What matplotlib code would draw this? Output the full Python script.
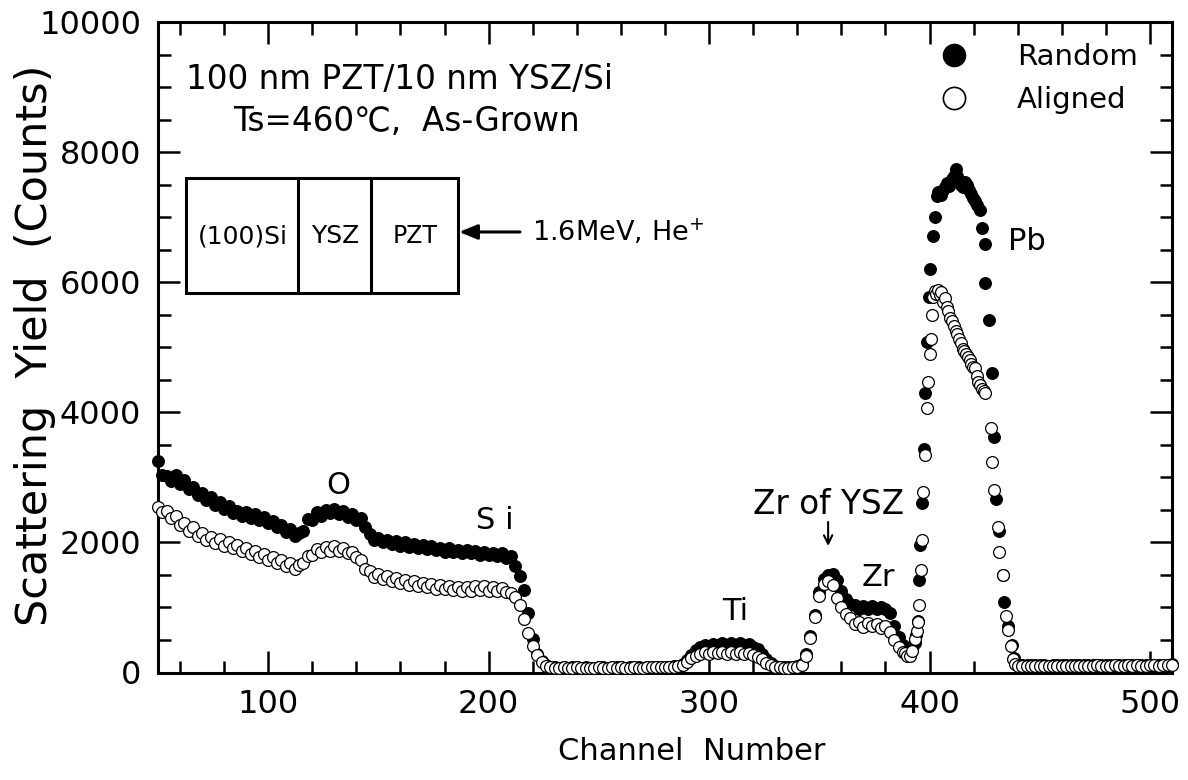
import matplotlib
matplotlib.use("Agg")
import matplotlib.pyplot as plt
import numpy as np
from matplotlib.lines import Line2D
from matplotlib.patches import Rectangle
from matplotlib.ticker import MultipleLocator

plt.rcParams['font.family'] = ['DejaVu Sans', 'Noto Sans CJK JP']

# channels 50..388, every second channel
ch_low = np.arange(50, 389, 2)
random_low = [
    3250, 3040, 3020, 2950, 3030, 2900, 2960, 2820, 2850, 2730,
    2760, 2650, 2700, 2580, 2620, 2510, 2560, 2450, 2490, 2410,
    2460, 2380, 2430, 2340, 2390, 2300, 2330, 2230, 2270, 2160,
    2200, 2100, 2140, 2180, 2360, 2350, 2460, 2400, 2500, 2450,
    2520, 2430, 2480, 2390, 2430, 2350, 2380, 2230, 2130, 2040,
    2070, 2000, 2040, 1970, 2020, 1950, 2000, 1930, 1970, 1920,
    1960, 1900, 1940, 1880, 1920, 1860, 1910, 1850, 1890, 1840,
    1880, 1830, 1870, 1810, 1860, 1800, 1840, 1790, 1830, 1760,
    1790, 1640, 1480, 1270, 910, 520, 290, 170, 110, 90,
    80, 75, 85, 70, 78, 82, 74, 80, 76, 72,
    84, 79, 75, 81, 77, 83, 74, 78, 86, 80,
    76, 82, 88, 85, 90, 84, 92, 95, 100, 130,
    190, 270, 340, 385, 420, 410, 445, 420, 455, 425,
    450, 420, 455, 420, 440, 395, 360, 290, 210, 140,
    105, 90, 85, 80, 85, 95, 130, 280, 560, 880,
    1230, 1440, 1500, 1510, 1420, 1250, 1130, 1060, 1030, 970,
    1020, 975, 1025, 970, 1010, 975, 910, 720, 540, 420,
]
aligned_low = [
    2550, 2470, 2480, 2370, 2400, 2260, 2300, 2180, 2230, 2100,
    2150, 2040, 2090, 1990, 2050, 1950, 2010, 1910, 1960, 1870,
    1920, 1820, 1870, 1770, 1820, 1730, 1780, 1680, 1730, 1630,
    1680, 1590, 1660, 1680, 1790, 1800, 1900, 1850, 1930, 1870,
    1940, 1870, 1920, 1840, 1860, 1770, 1730, 1590, 1560, 1470,
    1510, 1430, 1480, 1400, 1450, 1380, 1420, 1350, 1400, 1330,
    1380, 1310, 1360, 1290, 1340, 1280, 1330, 1270, 1320, 1260,
    1320, 1260, 1330, 1270, 1330, 1260, 1320, 1250, 1300, 1240,
    1220, 1160, 1040, 830, 600, 410, 270, 160, 100, 85,
    75, 70, 80, 68, 74, 78, 70, 76, 72, 68,
    80, 74, 70, 77, 73, 79, 70, 74, 80, 76,
    72, 78, 82, 80, 84, 80, 86, 90, 95, 115,
    160, 220, 260, 285, 310, 290, 320, 295, 315, 285,
    320, 290, 315, 285, 300, 270, 240, 200, 150, 110,
    90, 80, 75, 75, 80, 90, 120, 260, 530, 850,
    1180, 1360, 1410, 1340, 1150, 1010, 900, 840, 750, 770,
    700, 760, 710, 750, 690, 720, 620, 500, 390, 320,
]

random_pb_ch = [
    389.0, 390.0, 391.0, 392.0, 393.5, 394.0, 394.6, 395.1, 395.7, 396.4,
    397.3, 398.1, 398.8, 399.7, 400.3, 401.8, 402.5, 403.2, 404.0, 405.0,
    406.0, 407.0, 408.0, 409.0, 410.0, 411.0, 411.8, 412.6, 413.5, 414.4,
    415.3, 416.2, 417.1, 418.0, 418.9, 419.8, 420.6, 421.7, 422.9, 423.7,
    425.0, 425.3, 426.8, 428.5, 429.3, 430.0, 431.7, 433.2, 434.0, 435.6,
    437.2, 438.2, 439.0,
]
random_pb = [
    380, 310, 300, 360, 460, 570, 790, 1420, 1960, 2600,
    3430, 4300, 5080, 5780, 6210, 6710, 7000, 7330, 7380, 7340,
    7420, 7460, 7520, 7480, 7580, 7640, 7740, 7640, 7560, 7500,
    7470, 7540, 7490, 7420, 7360, 7300, 7250, 7190, 7110, 6840,
    6590, 5990, 5420, 4600, 3620, 2670, 2180, 1500, 1090, 710,
    430, 220, 140,
]
aligned_pb_ch = [
    389.0, 390.0, 391.0, 392.0, 393.4, 394.1, 394.7, 395.2, 396.0, 396.7,
    397.2, 398.0, 398.7, 399.4, 400.1, 400.7, 401.2, 401.8, 402.5, 403.0,
    403.8, 404.6, 405.4, 406.2, 407.0, 407.8, 408.6, 409.4, 410.2, 411.0,
    411.8, 412.6, 413.4, 414.2, 415.0, 415.8, 416.6, 417.4, 418.2, 419.0,
    419.8, 420.6, 421.4, 422.1, 422.9, 423.7, 424.5, 425.3, 427.7, 428.5,
    429.3, 430.9, 431.7, 433.3, 434.5, 435.6, 436.8, 438.0, 439.0,
]
aligned_pb = [
    300, 260, 250, 330, 520, 640, 780, 1030, 1580, 2030,
    2770, 3350, 4070, 4470, 4900, 5120, 5500, 5780, 5870, 5820,
    5880, 5800, 5850, 5700, 5750, 5620, 5550, 5450, 5400, 5330,
    5250, 5200, 5120, 5060, 4980, 4950, 4900, 4850, 4800, 4740,
    4700, 4680, 4560, 4470, 4420, 4360, 4330, 4300, 3760, 3240,
    2800, 2230, 1850, 1500, 870, 650, 400, 200, 130,
]

# channels 440..510, every second channel
ch_high = np.arange(440, 511, 2)
random_high = [
    120, 115, 110, 112, 108, 115, 110, 106, 112, 118, 110, 108,
    114, 110, 116, 112, 108, 114, 118, 112, 110, 116, 120, 114,
    112, 118, 115, 120, 116, 112, 118, 122, 116, 120, 118, 124,
]
aligned_high = [
    105, 100, 98, 102, 96, 104, 100, 95, 102, 106, 98, 96,
    104, 100, 106, 102, 98, 104, 108, 102, 100, 106, 110, 104,
    102, 108, 105, 110, 106, 102, 108, 112, 106, 110, 108, 114,
]

random_x = np.concatenate([ch_low, random_pb_ch, ch_high])
random_y = np.concatenate([random_low, random_pb, random_high])
aligned_x = np.concatenate([ch_low, aligned_pb_ch, ch_high])
aligned_y = np.concatenate([aligned_low, aligned_pb, aligned_high])

fig = plt.figure(figsize=(11.88, 7.8), dpi=100)
ax = fig.add_axes([158 / 1188, 1 - 672.5 / 780, 1014 / 1188, 650.5 / 780])

ax.plot(random_x, random_y, ls='', marker='o', ms=8.5, mfc='black', mec='black',
        mew=0.8, clip_on=False, zorder=3)
ax.plot(aligned_x, aligned_y, ls='', marker='o', ms=8.5, mfc='white', mec='black',
        mew=0.9, clip_on=False, zorder=4)

ax.set_xlim(50, 510)
ax.set_ylim(0, 10000)
ax.xaxis.set_major_locator(MultipleLocator(100))
ax.xaxis.set_minor_locator(MultipleLocator(20))
ax.yaxis.set_major_locator(MultipleLocator(2000))
ax.yaxis.set_minor_locator(MultipleLocator(500))
ax.tick_params(which='both', direction='in', top=True, right=True, width=1.8,
               labelsize=23)
ax.tick_params(which='major', length=16, pad=12)
ax.tick_params(which='minor', length=9)
for s in ax.spines.values():
    s.set_linewidth(2.2)

ax.set_xlabel('Channel  Number', fontsize=22)
ax.xaxis.set_label_coords(0.526, -0.099)
ax.set_ylabel('Scattering  Yield  (Counts)', fontsize=31)
ax.yaxis.set_label_coords(-0.101, 0.503)

# sample description
ax.text(62.7, 9109, '100 nm PZT/10 nm YSZ/Si', fontsize=23.5, va='center')
ax.text(84, 8463, 'Ts=460\u2103,  As-Grown', fontsize=23.5, va='center')

# layer sketch
ax.add_patch(Rectangle((62.7, 5834), 186.1 - 62.7, 7602 - 5834, fill=False,
                       lw=2.2, ec='black', zorder=5))
for xd in (113.5, 146.6):
    ax.plot([xd, xd], [5834, 7602], color='black', lw=2.2, zorder=5)
ax.text(88.6, 6710, '(100)Si', fontsize=18, ha='center', va='center')
ax.text(130.3, 6710, 'YSZ', fontsize=18, ha='center', va='center')
ax.text(166.6, 6710, 'PZT', fontsize=17, ha='center', va='center')
ax.annotate('', xy=(186.6, 6772), xytext=(214.2, 6772),
            arrowprops=dict(arrowstyle='-|>,head_length=1.1,head_width=0.45',
                            color='black', lw=2.2, shrinkA=0, shrinkB=0))
ax.text(219.7, 6772, '1.6MeV, He$^{+}$', fontsize=19.5, va='center')

# peak labels
ax.text(131.7, 2882, 'O', fontsize=22, ha='center', va='center')
ax.text(202.9, 2344, 'S i', fontsize=22, ha='center', va='center')
ax.text(311.8, 945, 'Ti', fontsize=22, ha='center', va='center')
ax.text(354, 2575, 'Zr of YSZ', fontsize=23.5, ha='center', va='center')
ax.annotate('', xy=(354, 1945), xytext=(354, 2314),
            arrowprops=dict(arrowstyle='->,head_length=0.6,head_width=0.3',
                            color='black', lw=1.5, shrinkA=0, shrinkB=0))
ax.text(376.7, 1468, 'Zr', fontsize=22, ha='center', va='center')
ax.text(444.3, 6633, 'Pb', fontsize=22, ha='center', va='center')

handles = [
    Line2D([], [], ls='', marker='o', ms=16, mfc='black', mec='black'),
    Line2D([], [], ls='', marker='o', ms=16, mfc='white', mec='black', mew=1.2),
]
ax.legend(handles, ['Random', 'Aligned'], loc='upper right',
          bbox_to_anchor=(0.978, 0.985), frameon=False, fontsize=21,
          handletextpad=1.15, labelspacing=0.5, borderaxespad=0)

fig.savefig('out.png', dpi=100)
